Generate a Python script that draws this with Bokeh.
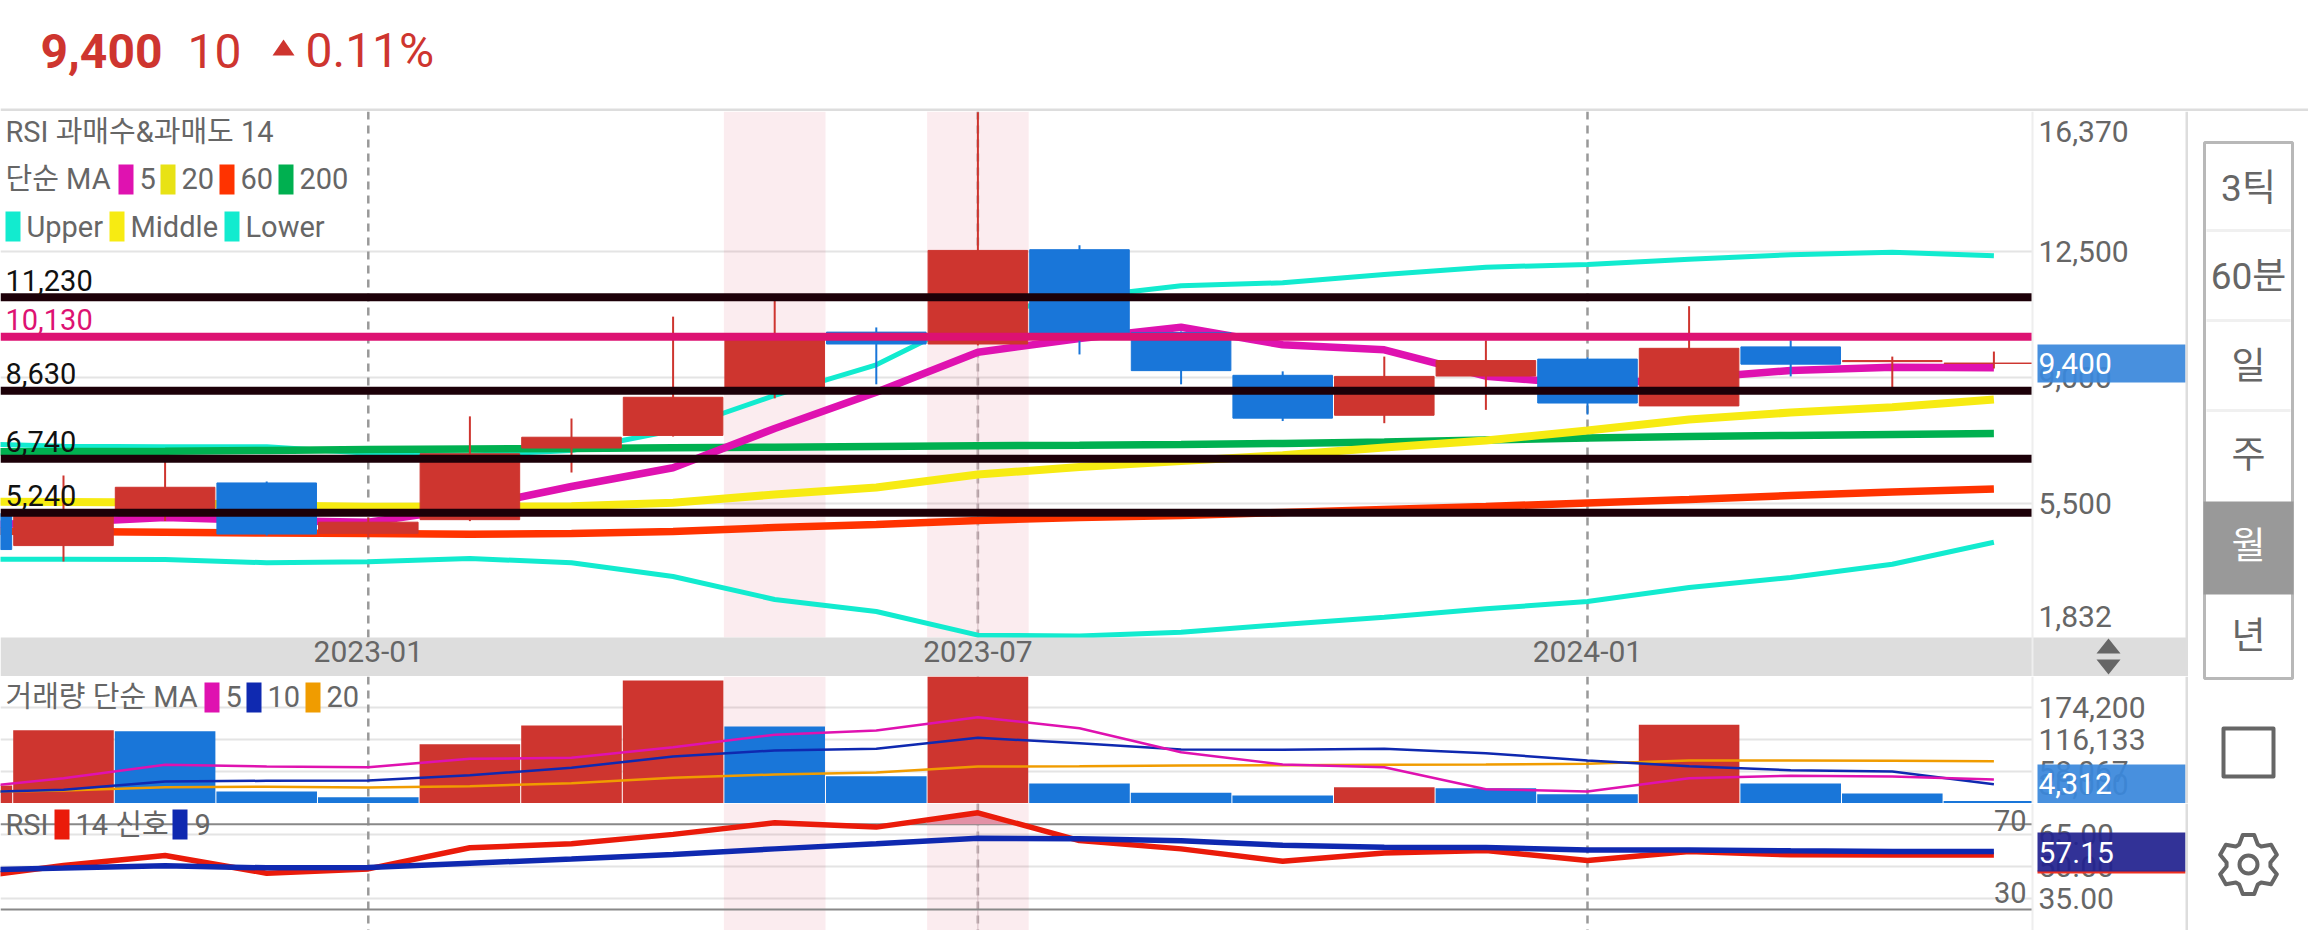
import numpy as np
from bokeh.core.properties import value
from bokeh.embed import file_html
from bokeh.layouts import column, row
from bokeh.models import (BoxAnnotation, FixedTicker, Label, LinearAxis, NumeralTickFormatter,
                          PolyAnnotation, Range1d, Span)
from bokeh.plotting import figure
from bokeh.resources import INLINE

months = ["2022-09", "2022-10", "2022-11", "2022-12", "2023-01", "2023-02", "2023-03", "2023-04",
          "2023-05", "2023-06", "2023-07", "2023-08", "2023-09", "2023-10", "2023-11", "2023-12",
          "2024-01", "2024-02", "2024-03", "2024-04", "2024-05"]
opens = [5220, 4330, 5220, 6070, 4670, 5050, 7040, 7390, 8610, 10260, 9930, 12550, 10250, 9060, 7950, 9040, 9510, 8210, 9850, 9440, 9390]
closes = [4220, 5170, 5950, 4650, 4980, 6880, 7340, 8450, 10220, 9930, 12530, 10170, 9190, 7870, 9030, 9470, 8290, 9810, 9370, 9470, 9400]
highs = [5220, 6280, 6720, 6110, 5110, 7920, 7860, 10690, 11220, 10390, 16370, 12670, 10280, 9170, 9580, 10030, 9560, 10980, 10030, 9580, 9720]
lows = [4200, 3890, 5010, 4610, 4560, 5010, 6360, 7360, 8420, 8810, 9890, 9640, 8810, 7790, 7730, 8100, 7970, 8210, 9030, 8640, 9250]
ma5 = [4888, 4972, 5110, 5027, 4980, 5388, 5972, 6491, 7583, 8591, 9703, 10083, 10397, 9908, 9769, 9036, 8805, 8972, 9194, 9286, 9269]
ma20 = [5555, 5541, 5527, 5444, 5408, 5416, 5424, 5519, 5749, 5944, 6305, 6513, 6677, 6841, 7055, 7250, 7527, 7833, 8027, 8175, 8389]
ma60 = [4735, 4722, 4703, 4680, 4666, 4647, 4666, 4722, 4833, 4916, 5027, 5110, 5166, 5249, 5333, 5416, 5513, 5611, 5722, 5819, 5902]
ma200 = [6930, 6944, 6952, 6972, 7000, 7014, 7027, 7047, 7063, 7083, 7103, 7119, 7139, 7166, 7208, 7263, 7319, 7361, 7389, 7416, 7444]
bb_upper = [7166, 7091, 7075, 7075, 6897, 6841, 6972, 7527, 8500, 9353, 10750, 11222, 11547, 11630, 11861, 12064, 12139, 12286, 12408, 12481, 12381]
bb_lower = [3952, 3952, 3944, 3852, 3880, 3972, 3852, 3471, 2833, 2499, 1841, 1819, 1924, 2138, 2341, 2574, 2777, 3166, 3444, 3813, 4424]
levels = [11230, 10130, 8630, 6740, 5240]
level_labels = ["11,230", "10,130", "8,630", "6,740", "5,240"]
level_colors = ["#1C0008", "#DD1272", "#1C0008", "#1C0008", "#1C0008"]
volumes = [32660, 133000, 131200, 21800, 11400, 107600, 141500, 223200, 139700, 49500, 232270, 36300, 19400, 14500, 29600, 27800, 16900, 142800, 36300, 18100, 4312]
vol_ma5 = [26700, 45900, 70200, 67100, 65900, 81100, 82900, 102200, 124700, 132500, 156600, 136600, 93100, 70800, 65900, 25900, 21800, 45900, 50300, 49000, 43600]
vol_ma10 = [20000, 24900, 39900, 41200, 41700, 51400, 64800, 85300, 96200, 99300, 119200, 109400, 98000, 97400, 99300, 91300, 78000, 67700, 60400, 58100, 35000]
vol_ma20 = [20900, 23600, 29600, 30300, 29000, 31400, 36800, 46600, 52600, 56300, 67100, 67700, 69000, 69500, 70200, 70800, 72000, 78000, 78000, 77500, 76800]
rsi14 = [44.4, 50.6, 55.3, 47.0, 49.0, 58.9, 60.8, 65.2, 70.6, 68.6, 75.3, 62.3, 58.4, 52.6, 56.5, 57.6, 53.0, 57.2, 55.6, 55.5, 55.5]
rsi_signal = [48.4, 49.4, 50.5, 49.5, 49.7, 51.7, 53.6, 55.8, 58.4, 60.8, 63.4, 63.1, 62.2, 60.1, 59.2, 59.0, 57.9, 57.9, 57.5, 57.2, 57.15]
date_ticks = ["2023-01", "2023-07", "2024-01"]
highlighted = ["2023-05", "2023-07"]
price_ticks = [12500, 9000, 5500]
volume_ticks = [174200, 116133, 58067]
rsi_ticks = [65, 50, 35]
period_buttons = ["3틱", "60분", "일", "주", "월", "년"]

RED, BLUE = "#CE352F", "#1976D9"
TEAL, YELLOW = "#12EBCF", "#F7EB12"
MAGENTA, ORANGE_RED, GREEN = "#DF12B0", "#FF3300", "#00B050"
NAVY, ORANGE, RSI_RED, GREY = "#0F29B0", "#F09C00", "#EA1B0A", "#666666"
FONT = "Roboto, 'Noto Sans CJK KR'"
PX = "29px"
AX_PX = "30px"

idx = np.arange(len(months))
o, c = np.array(opens), np.array(closes)
candle_colors = [RED if b >= a else BLUE for a, b in zip(opens, closes)]
vol_colors = [RED] + [RED if volumes[i] > volumes[i - 1] else BLUE for i in range(1, len(volumes))]
tick_x = [months.index(m) for m in date_ticks]
band_x = [months.index(m) for m in highlighted]
X0 = 0.38
AXIS_X = X0 + 2032 / 101.6
X1 = X0 + 2188 / 101.6
x_range = Range1d(X0, X1)


def pane(h, y0, y1, ticks, fmt, band_bottom=None):
    p = figure(width=2188, height=h, x_range=x_range, y_range=Range1d(y0, y1),
               x_axis_location=None, y_axis_location=None, toolbar_location=None, output_backend="svg",
               min_border=0, outline_line_color=None, background_fill_color="white", border_fill_color="white")
    ax = LinearAxis(ticker=FixedTicker(ticks=ticks), formatter=NumeralTickFormatter(format=fmt),
                    fixed_location=AXIS_X,
                    major_tick_line_color=None, minor_tick_line_color=None, major_tick_out=0, major_tick_in=0,
                    axis_line_color="#EEEEEE", axis_line_width=2, major_label_standoff=6,
                    major_label_text_font=FONT, major_label_text_font_size=AX_PX, major_label_text_color=GREY)
    p.add_layout(ax, "right")
    p.ygrid.ticker = FixedTicker(ticks=ticks)
    p.ygrid.grid_line_color = "#E4E4E4"
    p.ygrid.grid_line_width = 2
    p.xgrid.visible = False
    p.vbar(x=band_x, width=1, top=y1, bottom=y0 if band_bottom is None else band_bottom,
           fill_color="#D72D4B", fill_alpha=0.09, line_color=None)
    return p


def cover(p, y0, y1):
    """white strip that stops grid lines and marks at the price-scale edge"""
    p.quad(left=AXIS_X, right=X1, top=y1, bottom=y0, fill_color="white", line_color=None)


def dashes(p):
    for t in tick_x:
        p.add_layout(Span(location=t, dimension="height", line_color="#999999", line_width=2.5,
                          line_dash="8 6", level="underlay"))
    p.add_layout(Span(location=months.index("2023-07"), dimension="height", line_color="#D8CCD0",
                      line_width=1, level="underlay"))


def box(p, base, x0, x1, y0, y1, color, alpha=1.0, level="annotation"):
    p.add_layout(BoxAnnotation(left=x0, right=x1, top=base - y0, bottom=base - y1, left_units="screen",
                               right_units="screen", top_units="screen", bottom_units="screen",
                               fill_color=color, fill_alpha=alpha, line_color=None, level=level))


def label(p, base, x, y, text, color=GREY, size=PX, align="left"):
    p.add_layout(Label(x=x, y=base - y, x_units="screen", y_units="screen", text=text, text_color=color,
                       text_font=FONT, text_font_size=size, text_baseline="middle", text_align=align))


# ---------- header
head = figure(width=2308, height=111, x_range=Range1d(0, 2308), y_range=Range1d(111, 0), x_axis_location=None,
              y_axis_location=None, toolbar_location=None, output_backend="svg", min_border=0, outline_line_color=None)
head.grid.visible = False
head.quad(left=0, right=2308, top=108, bottom=111, fill_color="#DDDDDD", line_color=None)
head.text(x=[40], y=[50], text=["9,400"], text_font=value("Roboto"), text_font_style="bold",
          text_font_size=value("48px"), text_color=RED, text_baseline="middle")
head.text(x=[187, 305], y=[50, 50], text=["10", "0.11%"], text_font=value("Roboto"),
          text_font_size=value("48px"), text_color=RED, text_baseline="middle")
head.patch(x=[272, 294, 283], y=[55, 55, 39], fill_color=RED, line_color=None)

# ---------- price pane (its frame also holds the date band below the chart)
PRICE_MIN, PRICE_MAX, BAND_MIN = 1777, 16389, 693
price = pane(565, BAND_MIN, PRICE_MAX, price_ticks, "0,0", band_bottom=PRICE_MIN)
dashes(price)
price.line(idx, bb_upper, line_color=TEAL, line_width=5)
price.line(idx, bb_lower, line_color=TEAL, line_width=5)
price.line(idx, ma200, line_color=GREEN, line_width=7.5)
price.line(idx, ma60, line_color=ORANGE_RED, line_width=7.5)
price.line(idx, ma20, line_color=YELLOW, line_width=8)
price.line(idx, ma5, line_color=MAGENTA, line_width=7.5)
price.segment(x0=idx, x1=idx, y0=lows, y1=highs, line_color=candle_colors, line_width=2)
price.vbar(x=idx, width=0.98, top=np.maximum(o, c), bottom=np.minimum(o, c), fill_color=candle_colors,
           line_color=candle_colors, line_width=1)
price.segment(x0=X0, x1=AXIS_X, y0=levels, y1=levels, line_color=level_colors, line_width=8)
cover(price, PRICE_MIN, PRICE_MAX)
price.quad(left=X0, right=X1, top=PRICE_MIN, bottom=BAND_MIN, fill_color="#DDDDDD", line_color=None)
xa = LinearAxis(ticker=FixedTicker(ticks=tick_x), major_label_overrides={t: m for t, m in zip(tick_x, date_ticks)},
                fixed_location=PRICE_MIN,
                major_tick_line_color=None, minor_tick_line_color=None, axis_line_color=None, major_tick_out=0,
                major_tick_in=0, major_label_standoff=4, major_label_text_font=FONT, major_label_text_font_size=AX_PX,
                major_label_text_color=GREY)
price.add_layout(xa, "below")

for lv, txt, col in zip(levels, level_labels, ["#111111", "#DD1272", "#111111", "#111111", "#111111"]):
    price.add_layout(Label(x=5, y=lv, x_units="screen", y_units="data", y_offset=17, text=txt, text_color=col,
                           text_font=FONT, text_font_size=PX, text_baseline="middle"))

B = 676  # page px of the price frame's bottom
label(price, B, 5, 131.5, "RSI 과매수&과매도 14")
label(price, B, 5, 178, "단순 MA")
for x0, col, txt in [(118, "#DF12B0", "5"), (160, "#E8E215", "20"), (219, ORANGE_RED, "60"), (278, GREEN, "200")]:
    box(price, B, x0, x0 + 15, 164, 194, col)
    label(price, B, x0 + 21, 178, txt)
for x0, col, txt in [(5, TEAL, "Upper"), (109, YELLOW, "Middle"), (224, TEAL, "Lower")]:
    box(price, B, x0, x0 + 15, 211, 241, col)
    label(price, B, x0 + 21, 226, txt)
label(price, B, 2038, 131, "16,370", size=AX_PX)
label(price, B, 2038, 616, "1,832", size=AX_PX)
box(price, B, 2037, 2185, 344, 382, "#3A88DB", 0.93)
label(price, B, 2038, 363, "9,400", color="white", size=AX_PX)
box(price, B, 2185, 2188, 111, 676, "#DDDDDD")
price.add_layout(PolyAnnotation(xs=[2096, 2120, 2108], ys=[B - 653, B - 653, B - 638], xs_units="screen",
                                ys_units="screen", fill_color=GREY, fill_alpha=1, line_color=None))
price.add_layout(PolyAnnotation(xs=[2096, 2120, 2108], ys=[B - 659, B - 659, B - 674], xs_units="screen",
                                ys_units="screen", fill_color=GREY, fill_alpha=1, line_color=None))

# ---------- volume pane
vol = pane(127, 0, 230454, volume_ticks, "0,0")
dashes(vol)
vol.vbar(x=idx, width=0.99, top=volumes, bottom=0, fill_color=vol_colors, line_color=None)
vol.line(idx, vol_ma20, line_color=ORANGE, line_width=2.5)
vol.line(idx, vol_ma10, line_color=NAVY, line_width=2.5)
vol.line(idx, vol_ma5, line_color=MAGENTA, line_width=2.5)
cover(vol, 0, 230454)
B = 803
label(vol, B, 5, 696, "거래량 단순 MA")
for x0, col, txt in [(204, MAGENTA, "5"), (246, NAVY, "10"), (305, ORANGE, "20")]:
    box(vol, B, x0, x0 + 15, 682, 712, col)
    label(vol, B, x0 + 21, 696, txt)
label(vol, B, 2038, 784, "30,000", size=AX_PX)
box(vol, B, 2037, 2185, 764, 803, "#3A88DB", 0.93)
label(vol, B, 2038, 783, "4,312", color="white", size=AX_PX)
box(vol, B, 2185, 2188, 676, 803, "#DDDDDD")

# ---------- RSI pane
rsi = pane(127, 20.14, 79.67, rsi_ticks, "0.00")
dashes(rsi)
for lvl in (70, 30):
    rsi.segment(x0=X0, x1=AXIS_X, y0=lvl, y1=lvl, line_color="#888888", line_width=2)
hot = months.index("2023-07")
hot_x = [hot - 0.5, hot, hot + 0.42]
rsi.varea(x=hot_x, y1=[70, 70, 70], y2=list(np.interp(hot_x, idx, rsi14)), fill_color="#E291A6")
rsi.line(idx, rsi14, line_color=RSI_RED, line_width=5.5)
rsi.line(idx, rsi_signal, line_color=NAVY, line_width=5.5)
cover(rsi, 20.14, 79.67)
B = 930
label(rsi, B, 5, 824, "RSI")
box(rsi, B, 54, 69, 809, 839, RSI_RED)
label(rsi, B, 75, 824, "14 신호")
box(rsi, B, 172, 187, 809, 839, NAVY)
label(rsi, B, 194, 824, "9")
label(rsi, B, 2026, 820, "70", align="right")
label(rsi, B, 2026, 892, "30", align="right")
box(rsi, B, 2037, 2185, 870, 873, "#F03020")
box(rsi, B, 2037, 2185, 832, 871, "#22228F", 0.93)
label(rsi, B, 2038, 852, "57.15", color="white", size=AX_PX)
box(rsi, B, 2185, 2188, 803, 930, "#DDDDDD")

# ---------- side panel
side = figure(width=120, height=819, x_range=Range1d(2188, 2308), y_range=Range1d(930, 111), x_axis_location=None,
              y_axis_location=None, toolbar_location=None, output_backend="svg", min_border=0, outline_line_color=None)
side.grid.visible = False
side.quad(left=2204, right=2292, top=142, bottom=678, fill_color="white", line_color="#B8B8B8", line_width=3)
side.quad(left=2203, right=2293, top=501, bottom=594, fill_color="#999999", line_color=None)
side.multi_line(xs=[[2206, 2290]] * 3, ys=[[230, 230], [320, 320], [410, 410]], line_color="#F0F0F0", line_width=3)
side.text(x=[2248] * 6, y=[188, 276, 366, 455, 546, 636], text=period_buttons,
          text_color=[GREY, GREY, GREY, GREY, "white", GREY], text_font=value(FONT), text_font_size=value("37px"),
          text_align="center", text_baseline="middle")
side.quad(left=2223, right=2273, top=728, bottom=776, fill_color=None, line_color=GREY, line_width=4, line_join="round")
ang, rad = [], []
for a in np.arange(0, 360, 60):
    ang += [a - 25, a - 11, a + 11, a + 25]
    rad += [22, 30, 30, 22]
ang = np.radians(np.array(ang) - 90)
rad = np.array(rad)
side.patch(2248 + rad * np.cos(ang), 864 + rad * np.sin(ang), fill_color=None, line_color=GREY, line_width=4,
           line_join="round")
side.circle(x=[2248], y=[864], radius=9, fill_color=None, line_color=GREY, line_width=4)

page = column(head, row(column(price, vol, rsi, spacing=0), side, spacing=0), spacing=0)
open("out.html", "w").write(file_html(page, INLINE))
